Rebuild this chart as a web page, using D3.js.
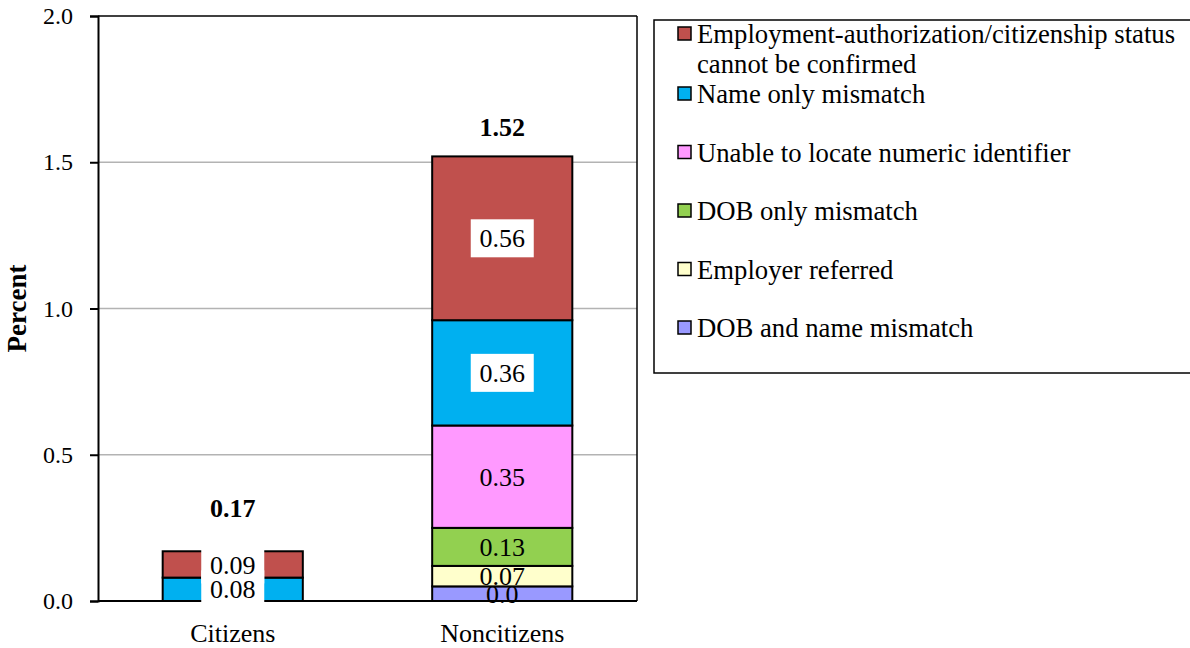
<!DOCTYPE html>
<html>
<head>
<meta charset="utf-8">
<script src="https://cdn.jsdelivr.net/npm/d3@7"></script>
<style>
body { margin: 0; background: #fff; }
svg { display: block; font-family: "Liberation Serif", "Times New Roman", serif; }
</style>
</head>
<body>
<svg id="chart" width="1190" height="648"></svg>
<script>
// categories and series, bottom of stack first
const categories = ['Citizens', 'Noncitizens'];
const seriesNames = [
	'DOB and name mismatch',
	'Employer referred',
	'DOB only mismatch',
	'Unable to locate numeric identifier',
	'Name only mismatch',
	'Employment-authorization/citizenship status cannot be confirmed'
];
const dobAndName = [0, 0.05];
const employerReferred = [0, 0.07];
const dobOnly = [0, 0.13];
const unableToLocate = [0, 0.35];
const nameOnly = [0.08, 0.36];
const empAuth = [0.09, 0.56];
const totals = [0.17, 1.52];

// label texts as printed on the chart
const dobAndNameLabels = ['', '0.0'];
const employerReferredLabels = ['', '0.07'];
const dobOnlyLabels = ['', '0.13'];
const unableToLocateLabels = ['', '0.35'];
const nameOnlyLabels = ['0.08', '0.36'];
const empAuthLabels = ['0.09', '0.56'];

const yTicks = [0, 0.5, 1.0, 1.5, 2.0];

const seriesValues = [dobAndName, employerReferred, dobOnly, unableToLocate, nameOnly, empAuth];
const seriesLabels = [dobAndNameLabels, employerReferredLabels, dobOnlyLabels, unableToLocateLabels, nameOnlyLabels, empAuthLabels];
const colors = ['#9999FF', '#FFFFCC', '#92D050', '#FF99FF', '#00B0F0', '#C0504D'];
const whiteLabel = [false, false, false, false, true, true];
const legendLines = [
	['DOB and name mismatch'],
	['Employer referred'],
	['DOB only mismatch'],
	['Unable to locate numeric identifier'],
	['Name only mismatch'],
	['Employment-authorization/citizenship status', 'cannot be confirmed']
];

let svg = d3.select('#chart');

let plotLeft = 98, plotRight = 637, plotTop = 16, plotBottom = 601;

let x = d3.scaleBand()
	.domain(categories)
	.range([plotLeft, plotRight])
	.paddingInner(0.48)
	.paddingOuter(0.24)
;

let y = d3.scaleLinear()
	.domain([0, 2])
	.range([plotBottom, plotTop])
;

// gridlines
svg.append('g')
	.selectAll('line')
	.data(yTicks.filter(d => d > 0 && d < 2))
	.enter()
	.append('line')
	.attr('x1', plotLeft)
	.attr('x2', plotRight)
	.attr('y1', d => y(d))
	.attr('y2', d => y(d))
	.style('stroke', '#b3b3b3')
	.style('stroke-width', 1.5)
;

// frame top and right
svg.append('line')
	.attr('x1', plotLeft).attr('x2', plotRight)
	.attr('y1', y(2)).attr('y2', y(2))
	.style('stroke', '#000').style('stroke-width', 1.5);
svg.append('line')
	.attr('x1', plotRight).attr('x2', plotRight)
	.attr('y1', y(2)).attr('y2', y(0))
	.style('stroke', '#000').style('stroke-width', 1.5);

// stacked rows
let rows = categories.map((c, i) => {
	let row = {category: c};
	seriesNames.forEach((s, k) => row[s] = seriesValues[k][i]);
	return row;
});

let stack = d3.stack().keys(seriesNames)(rows);

let layers = svg.append('g')
	.selectAll('g')
	.data(stack)
	.enter()
	.append('g')
	.style('fill', (d, k) => colors[k])
;

layers.selectAll('rect')
	.data(d => d.filter(p => p[1] - p[0] > 0))
	.enter()
	.append('rect')
	.attr('x', d => x(d.data.category))
	.attr('y', d => y(d[1]))
	.attr('width', x.bandwidth())
	.attr('height', d => y(d[0]) - y(d[1]))
	.style('stroke', '#000')
	.style('stroke-width', 2)
;

// axes
let yAxis = svg.append('g')
	.attr('transform', 'translate(' + plotLeft + ',0)')
	.call(d3.axisLeft(y)
		.tickValues(yTicks)
		.tickFormat(d3.format('.1f'))
		.tickSize(8)
		.tickPadding(17)
	)
;
yAxis.select('.domain').style('stroke-width', 2);
yAxis.selectAll('.tick line').style('stroke-width', 2);
yAxis.selectAll('text')
	.style('font-family', '"Liberation Serif", serif')
	.style('font-size', '24px')
	.style('fill', '#000')
;

svg.append('line')
	.attr('x1', plotLeft).attr('x2', plotRight)
	.attr('y1', plotBottom).attr('y2', plotBottom)
	.style('stroke', '#000').style('stroke-width', 2);

svg.append('g')
	.selectAll('text')
	.data(categories)
	.enter()
	.append('text')
	.attr('x', d => x(d) + x.bandwidth() / 2)
	.attr('y', 642)
	.attr('text-anchor', 'middle')
	.style('font-size', '26px')
	.text(d => d)
;

svg.append('text')
	.attr('transform', 'translate(26,' + ((plotTop + plotBottom) / 2) + ') rotate(-90)')
	.attr('text-anchor', 'middle')
	.style('font-size', '27px')
	.style('font-weight', 'bold')
	.text('Percent')
;

// segment labels
let labelData = [];
stack.forEach((layer, k) => {
	layer.forEach((p, i) => {
		if(seriesLabels[k][i] !== '')
		{
			labelData.push({
				cx: x(categories[i]) + x.bandwidth() / 2,
				cy: y((p[0] + p[1]) / 2),
				text: seriesLabels[k][i],
				white: whiteLabel[k]
			});
		}
	});
});

// white boxes first, then all texts on top
svg.append('g')
	.selectAll('rect')
	.data(labelData.filter(d => d.white))
	.enter()
	.append('rect')
	.attr('x', d => d.cx - 31.5)
	.attr('y', d => d.cy - 19)
	.attr('width', 63)
	.attr('height', 38)
	.style('fill', '#fff')
;

svg.append('g')
	.selectAll('text')
	.data(labelData)
	.enter()
	.append('text')
	.attr('x', d => d.cx)
	.attr('y', d => d.cy)
	.attr('dy', '0.35em')
	.attr('text-anchor', 'middle')
	.style('font-size', '26px')
	.text(d => d.text)
;

// totals above bars
const totalGap = [34, 20];
svg.append('g')
	.selectAll('text')
	.data(totals)
	.enter()
	.append('text')
	.attr('x', (d, i) => x(categories[i]) + x.bandwidth() / 2)
	.attr('y', (d, i) => y(d) - totalGap[i])
	.attr('text-anchor', 'middle')
	.style('font-size', '26px')
	.style('font-weight', 'bold')
	.text(d => d3.format('.2f')(d))
;

// legend
let legend = svg.append('g');

legend.append('rect')
	.attr('x', 654)
	.attr('y', 20)
	.attr('width', 560)
	.attr('height', 353)
	.style('fill', '#fff')
	.style('stroke', '#000')
	.style('stroke-width', 1.5)
;

let order = d3.range(seriesNames.length).reverse();
let baselines = [43, 103, 161.5, 220, 278.5, 337];

let items = legend.selectAll('g.item')
	.data(order)
	.enter()
	.append('g')
	.attr('class', 'item')
	.attr('transform', (k, j) => 'translate(0,' + baselines[j] + ')')
;

items.append('rect')
	.attr('x', 678)
	.attr('y', -16)
	.attr('width', 13)
	.attr('height', 13)
	.style('fill', k => colors[k])
	.style('stroke', '#000')
	.style('stroke-width', 1.5)
;

items.append('text')
	.attr('x', 697)
	.attr('y', 0)
	.style('font-size', '26.7px')
	.selectAll('tspan')
	.data(k => legendLines[k])
	.enter()
	.append('tspan')
	.attr('x', 697)
	.attr('dy', (d, i) => i == 0 ? 0 : 30)
	.text(d => d)
;
</script>
</body>
</html>
